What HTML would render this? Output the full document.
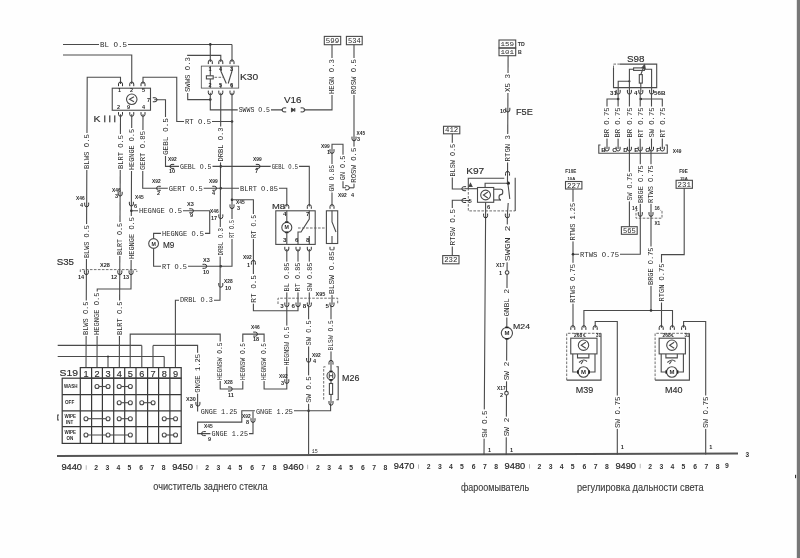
<!DOCTYPE html>
<html><head><meta charset="utf-8"><style>
html,body{margin:0;padding:0;background:#fff;}
body{width:800px;height:558px;overflow:hidden;position:relative;}
svg{position:absolute;left:0;top:0;will-change:transform;}
text{font-family:"Liberation Sans",sans-serif;fill:#2b2b2b;}
text.m{font-family:"Liberation Mono",monospace;fill:#2a2a2a;}
text.t{font-family:"Liberation Sans",sans-serif;font-weight:bold;fill:#2a2a2a;}
text.b{font-family:"Liberation Sans",sans-serif;font-weight:bold;fill:#333;}
text.L{font-family:"Liberation Sans",sans-serif;fill:#2e2e2e;stroke:#2e2e2e;stroke-width:0.15px;}
text.N{font-family:"Liberation Sans",sans-serif;fill:#262626;stroke:#262626;stroke-width:0.2px;}
text.s{fill:#3c3c3c;stroke:#3c3c3c;stroke-width:0.12px;}
</style></head><body>
<svg width="800" height="558" viewBox="0 0 800 558">
<rect x="0" y="0" width="800" height="558" fill="#fefefe"/>
<rect x="796.8" y="0" width="3.2" height="558" fill="#777"/>
<rect x="795" y="474.8" width="1.1" height="3.4" fill="#333"/>
<g stroke="#4a4a4a" stroke-width="1.1" fill="none">
<line x1="63" y1="44.5" x2="232" y2="44.5"/>
<polyline points="63,55 131.75,55 131.75,84"/>
<polyline points="86,368 87.2,77.25 120.5,77.25 120.5,84"/>
<polyline points="143,84 143,77.25 176.75,77.25 176.75,121.5 232,121.5"/>
<circle cx="232" cy="121.5" r="1.3" fill="#333" stroke="none"/>
<rect x="112.25" y="88.2" width="38.25" height="22.05" fill="none"/>
<circle cx="131.75" cy="99.3" r="5.25" fill="none"/>
<path d="M134,96.8 L129.5,99.3 L134,101.8" fill="none"/>
<polyline points="154.25,99.75 165.5,99.75 165.5,166.4 172,166.4"/>
<path d="M118.5,86.2 v-2.2 a2.0,2.0 0 0 1 4,0 v2.2" fill="none" stroke="#333" stroke-width="1"/>
<path d="M118.5,112.1 v2.2 a2.0,2.0 0 0 0 4,0 v-2.2" fill="none" stroke="#333" stroke-width="1"/>
<path d="M129.75,86.2 v-2.2 a2.0,2.0 0 0 1 4,0 v2.2" fill="none" stroke="#333" stroke-width="1"/>
<path d="M129.75,112.1 v2.2 a2.0,2.0 0 0 0 4,0 v-2.2" fill="none" stroke="#333" stroke-width="1"/>
<path d="M141,86.2 v-2.2 a2.0,2.0 0 0 1 4,0 v2.2" fill="none" stroke="#333" stroke-width="1"/>
<path d="M141,112.1 v2.2 a2.0,2.0 0 0 0 4,0 v-2.2" fill="none" stroke="#333" stroke-width="1"/>
<path d="M152.8,97.75 h2.2 a2.0,2.0 0 0 1 0,4 h-2.2" fill="none" stroke="#333" stroke-width="1"/>
<line x1="120.5" y1="114.3" x2="119.3" y2="368"/>
<path d="M118.16,191.8 v2.2 a2.0,2.0 0 0 0 4,0 v-2.2" fill="none" stroke="#333" stroke-width="1"/>
<path d="M117.82,270.4 v2.2 a2.0,2.0 0 0 0 4,0 v-2.2" fill="none" stroke="#333" stroke-width="1"/>
<polyline points="131.75,114.3 131,289 97.25,289 97,368"/>
<path d="M129.36,201.8 v2.2 a2.0,2.0 0 0 0 4,0 v-2.2" fill="none" stroke="#333" stroke-width="1"/>
<circle cx="131.34" cy="210.8" r="1.3" fill="#333" stroke="none"/>
<path d="M129.07,270.4 v2.2 a2.0,2.0 0 0 0 4,0 v-2.2" fill="none" stroke="#333" stroke-width="1"/>
<polyline points="143,114.3 142.7,188.3 158.6,188.3"/>
<path d="M84.65,202.6 v2.2 a2.0,2.0 0 0 0 4,0 v-2.2" fill="none" stroke="#333" stroke-width="1"/>
<path d="M84.36,270.4 v2.2 a2.0,2.0 0 0 0 4,0 v-2.2" fill="none" stroke="#333" stroke-width="1"/>
<polyline points="80.3,272 80.3,269.6 136.8,269.6 136.8,272" stroke-dasharray="2.6 1.4" stroke="#555" stroke-width="0.85"/>
<polyline points="220.8,61.9 220.8,55.4 187.7,55.4 187.7,99.6 210.3,99.6"/>
<circle cx="210.3" cy="99.6" r="1.3" fill="#333" stroke="none"/>
<line x1="210.3" y1="44.4" x2="210.3" y2="61.9"/>
<circle cx="210.3" cy="44.4" r="1.3" fill="#333" stroke="none"/>
<line x1="232" y1="44.4" x2="232" y2="61.9"/>
<rect x="201.3" y="66.1" width="37.4" height="22" fill="none" stroke-width="0.8"/>
<path d="M208.3,64.1 v-2.2 a2.0,2.0 0 0 1 4,0 v2.2" fill="none" stroke="#333" stroke-width="1"/>
<path d="M208.3,90.6 v2.2 a2.0,2.0 0 0 0 4,0 v-2.2" fill="none" stroke="#333" stroke-width="1"/>
<path d="M218.8,64.1 v-2.2 a2.0,2.0 0 0 1 4,0 v2.2" fill="none" stroke="#333" stroke-width="1"/>
<path d="M218.8,90.6 v2.2 a2.0,2.0 0 0 0 4,0 v-2.2" fill="none" stroke="#333" stroke-width="1"/>
<path d="M230,64.1 v-2.2 a2.0,2.0 0 0 1 4,0 v2.2" fill="none" stroke="#333" stroke-width="1"/>
<path d="M230,90.6 v2.2 a2.0,2.0 0 0 0 4,0 v-2.2" fill="none" stroke="#333" stroke-width="1"/>
<rect x="206.4" y="75.8" width="6.8" height="3.1" fill="none"/>
<line x1="210.3" y1="66.1" x2="210.3" y2="75.8"/>
<line x1="210.3" y1="78.9" x2="210.3" y2="88.1"/>
<line x1="220.8" y1="66.1" x2="220.8" y2="71"/>
<polyline points="220.8,71 226.3,83.5"/>
<line x1="220.8" y1="83.5" x2="220.8" y2="88.1"/>
<line x1="232" y1="66.1" x2="232" y2="71"/>
<polyline points="232,71 228.2,83.5"/>
<line x1="232" y1="83.5" x2="232" y2="88.1"/>
<polyline points="214.5,77.3 224,77.3" stroke-dasharray="2.6 1.4" stroke="#555" stroke-width="0.85"/>
<polyline points="210.3,92.8 210.3,109.9 283,109.9"/>
<path d="M286.2,107.9 h-2.2 a2.0,2.0 0 0 0 0,4 h2.2" fill="none" stroke="#333" stroke-width="1"/>
<path d="M300.6,107.9 h2.2 a2.0,2.0 0 0 1 0,4 h-2.2" fill="none" stroke="#333" stroke-width="1"/>
<path d="M291.5,108.3 L291.5,111.5 L294.5,109.9 Z" fill="#222"/>
<line x1="294.7" y1="108" x2="294.7" y2="111.8"/>
<polyline points="303.6,109.9 332,109.9 332,44.7"/>
<rect x="324.3" y="36.4" width="16.4" height="8.3" fill="none"/>
<rect x="346.4" y="36.4" width="15.8" height="8.3" fill="none"/>
<line x1="354" y1="44.7" x2="354" y2="187.8"/>
<line x1="354" y1="187.8" x2="349" y2="187.8"/>
<path d="M352,136.6 v2.2 a2.0,2.0 0 0 0 4,0 v-2.2" fill="none" stroke="#333" stroke-width="1"/>
<polyline points="220.8,92.8 220,300.2 175.4,300.2 175.4,368"/>
<circle cx="220.8" cy="166.4" r="1.3" fill="#333" stroke="none"/>
<circle cx="220.8" cy="188.3" r="1.3" fill="#333" stroke="none"/>
<path d="M218.8,214.4 v2.2 a2.0,2.0 0 0 0 4,0 v-2.2" fill="none" stroke="#333" stroke-width="1"/>
<circle cx="220.8" cy="266.3" r="1.3" fill="#333" stroke="none"/>
<path d="M218.8,283 v2.2 a2.0,2.0 0 0 0 4,0 v-2.2" fill="none" stroke="#333" stroke-width="1"/>
<polyline points="232,92.8 232,266.3 153.6,266.3 153.6,248.5"/>
<circle cx="232" cy="199.8" r="1.3" fill="#333" stroke="none"/>
<path d="M230,204.4 v2.2 a2.0,2.0 0 0 0 4,0 v-2.2" fill="none" stroke="#333" stroke-width="1"/>
<path d="M202.5,264.3 h2.2 a2.0,2.0 0 0 1 0,4 h-2.2" fill="none" stroke="#333" stroke-width="1"/>
<polyline points="232,199.8 253.4,199.8 253.4,310.8 298,310.8 298,304.7"/>
<path d="M251.4,264.6 v-2.2 a2.0,2.0 0 0 1 4,0 v2.2" fill="none" stroke="#333" stroke-width="1"/>
<polyline points="172,166.4 309.3,166.4 309.3,206.6"/>
<path d="M174.2,164.4 h-2.2 a2.0,2.0 0 0 0 0,4 h2.2" fill="none" stroke="#333" stroke-width="1"/>
<path d="M255.8,164.4 h2.2 a2.0,2.0 0 0 1 0,4 h-2.2" fill="none" stroke="#333" stroke-width="1"/>
<polyline points="158.6,188.3 286.8,188.3 286.8,206.6"/>
<path d="M160.8,186.3 h-2.2 a2.0,2.0 0 0 0 0,4 h2.2" fill="none" stroke="#333" stroke-width="1"/>
<path d="M212.3,186.3 h2.2 a2.0,2.0 0 0 1 0,4 h-2.2" fill="none" stroke="#333" stroke-width="1"/>
<polyline points="131.75,210.8 209.7,210.8 209.7,233.4 153.6,233.4 153.6,238.5"/>
<path d="M189.2,208.8 h2.2 a2.0,2.0 0 0 1 0,4 h-2.2" fill="none" stroke="#333" stroke-width="1"/>
<circle cx="153.6" cy="243.5" r="4.9" fill="#fff"/>
<path d="M284.8,208.8 v-2.2 a2.0,2.0 0 0 1 4,0 v2.2" fill="none" stroke="#333" stroke-width="1"/>
<path d="M307.3,208.8 v-2.2 a2.0,2.0 0 0 1 4,0 v2.2" fill="none" stroke="#333" stroke-width="1"/>
<rect x="275.8" y="210.8" width="39.4" height="33.6" fill="none"/>
<circle cx="286.8" cy="227.4" r="5" fill="#fff"/>
<rect x="285.2" y="221.2" width="3.2" height="1.6" fill="#222" stroke="none"/><rect x="285.2" y="231.6" width="3.2" height="1.6" fill="#222" stroke="none"/>
<line x1="286.8" y1="210.8" x2="286.8" y2="222.4"/>
<line x1="286.8" y1="232.4" x2="286.8" y2="244.2"/>
<polyline points="309.3,210.8 309.3,219 301,232 298,232 298,244.2"/>
<line x1="309.3" y1="236" x2="309.3" y2="244.2"/>
<polyline points="298,228 326,228" stroke-dasharray="2.6 1.4" stroke="#555" stroke-width="0.85"/>
<path d="M284.8,246.8 v2.2 a2.0,2.0 0 0 0 4,0 v-2.2" fill="none" stroke="#333" stroke-width="1"/>
<path d="M296,246.8 v2.2 a2.0,2.0 0 0 0 4,0 v-2.2" fill="none" stroke="#333" stroke-width="1"/>
<path d="M307.3,246.8 v2.2 a2.0,2.0 0 0 0 4,0 v-2.2" fill="none" stroke="#333" stroke-width="1"/>
<rect x="326.4" y="210.8" width="11.3" height="32.7" fill="none"/>
<path d="M330,208.8 v-2.2 a2.0,2.0 0 0 1 4,0 v2.2" fill="none" stroke="#333" stroke-width="1"/>
<path d="M330,246.8 v2.2 a2.0,2.0 0 0 0 4,0 v-2.2" fill="none" stroke="#333" stroke-width="1"/>
<polyline points="332,210.8 332,222 336,232"/>
<line x1="332" y1="236" x2="332" y2="243.5"/>
<polyline points="332,151.4 332,144.3 343,144.3 343,187.8 346,187.8"/>
<line x1="332" y1="151.4" x2="332" y2="206.6"/>
<path d="M330,149.2 v2.2 a2.0,2.0 0 0 0 4,0 v-2.2" fill="none" stroke="#333" stroke-width="1"/>
<path d="M345.1,185.8 h2.2 a2.0,2.0 0 0 1 0,4 h-2.2" fill="none" stroke="#333" stroke-width="1"/>
<line x1="286.8" y1="249" x2="286.8" y2="304.7"/>
<line x1="309.3" y1="249" x2="309.3" y2="304.7"/>
<line x1="332" y1="249" x2="332" y2="304.7"/>
<line x1="298" y1="249" x2="298" y2="304.7"/>
<polyline points="278,304 278,298.2 337.7,298.2 337.7,304" stroke-dasharray="2.6 1.4" stroke="#555" stroke-width="0.85"/>
<path d="M284.8,302.5 v2.2 a2.0,2.0 0 0 0 4,0 v-2.2" fill="none" stroke="#333" stroke-width="1"/>
<path d="M296,302.5 v2.2 a2.0,2.0 0 0 0 4,0 v-2.2" fill="none" stroke="#333" stroke-width="1"/>
<path d="M307.3,302.5 v2.2 a2.0,2.0 0 0 0 4,0 v-2.2" fill="none" stroke="#333" stroke-width="1"/>
<path d="M330,302.5 v2.2 a2.0,2.0 0 0 0 4,0 v-2.2" fill="none" stroke="#333" stroke-width="1"/>
<polyline points="286.8,304.7 286.8,389 264.1,389 264.1,334.1 242.8,334.1 242.8,389 220.2,389 220.2,334.1 130.2,334.1 130.2,368"/>
<path d="M284.8,379.2 v2.2 a2.0,2.0 0 0 0 4,0 v-2.2" fill="none" stroke="#333" stroke-width="1"/>
<path d="M253.2,332.1 h2.2 a2.0,2.0 0 0 1 0,4 h-2.2" fill="none" stroke="#333" stroke-width="1"/>
<path d="M228,387 h2.2 a2.0,2.0 0 0 1 0,4 h-2.2" fill="none" stroke="#333" stroke-width="1"/>
<line x1="308.6" y1="304.7" x2="308.6" y2="455"/>
<path d="M306.6,358 v2.2 a2.0,2.0 0 0 0 4,0 v-2.2" fill="none" stroke="#333" stroke-width="1"/>
<circle cx="308.6" cy="410.8" r="1.3" fill="#333" stroke="none"/>
<polyline points="331,304.7 331,403.2"/>
<polyline points="330.6,403.2 330.6,410.8 241.8,410.8 241.8,422.1 197.6,422.1 197.6,433.6 253,433.6 253,411.4"/>
<path d="M329,364.6 v-2.2 a2.0,2.0 0 0 1 4,0 v2.2" fill="none" stroke="#333" stroke-width="1"/>
<polyline points="325.5,366.8 323.7,366.8 323.7,399.8" stroke-dasharray="2.6 1.4" stroke="#555" stroke-width="0.85"/>
<polyline points="336.4,366.8 338.2,366.8 338.2,399.8 336.4,399.8"/>
<circle cx="331" cy="375.7" r="4" fill="#fff"/>
<polyline points="329.3,373.2 329.3,378.2"/>
<polyline points="332.7,373.2 332.7,378.2"/>
<polyline points="329.3,375.7 332.7,375.7"/>
<rect x="329.4" y="370.6" width="3.2" height="1.6" fill="#222" stroke="none"/>
<rect x="329.4" y="379.2" width="3.2" height="1.6" fill="#222" stroke="none"/>
<rect x="329.4" y="383.5" width="3.2" height="10.9" fill="#fff"/>
<path d="M329,401 v2.2 a2.0,2.0 0 0 0 4,0 v-2.2" fill="none" stroke="#333" stroke-width="1"/>
<polyline points="175,345.4 197.6,345.4 197.6,411.4"/>
<path d="M195.9,401.9 v2.2 a2.0,2.0 0 0 0 4,0 v-2.2" fill="none" stroke="#333" stroke-width="1"/>
<path d="M205.8,431.6 h-2.2 a2.0,2.0 0 0 0 0,4 h2.2" fill="none" stroke="#333" stroke-width="1"/>
<path d="M251,418.2 v2.2 a2.0,2.0 0 0 0 4,0 v-2.2" fill="none" stroke="#333" stroke-width="1"/>
<line x1="57.7" y1="345.4" x2="141.8" y2="345.4"/>
<line x1="141.8" y1="345.4" x2="141.8" y2="368"/>
<line x1="153" y1="345.4" x2="153" y2="368"/>
<line x1="153" y1="345.4" x2="175" y2="345.4"/>
<line x1="57.7" y1="356.5" x2="164.2" y2="356.5"/>
<line x1="164.2" y1="356.5" x2="164.2" y2="368"/>
<line x1="108" y1="356.5" x2="108" y2="368"/>
<circle cx="108" cy="356.5" r="1" fill="#333" stroke="none"/>
<g stroke="#383838" stroke-width="1.2">
<rect x="80.3" y="367.6" width="100.9" height="10.6" fill="none"/>
<line x1="91.6" y1="367.6" x2="91.6" y2="443.4"/>
<line x1="102.4" y1="367.6" x2="102.4" y2="443.4"/>
<line x1="113.7" y1="367.6" x2="113.7" y2="443.4"/>
<line x1="124.7" y1="367.6" x2="124.7" y2="443.4"/>
<line x1="136" y1="367.6" x2="136" y2="443.4"/>
<line x1="147.6" y1="367.6" x2="147.6" y2="443.4"/>
<line x1="158.6" y1="367.6" x2="158.6" y2="443.4"/>
<line x1="169.9" y1="367.6" x2="169.9" y2="443.4"/>
<rect x="62.2" y="378.2" width="119" height="65.2" fill="none"/>
<line x1="62.2" y1="394.7" x2="181.2" y2="394.7"/>
<line x1="62.2" y1="410.8" x2="181.2" y2="410.8"/>
<line x1="62.2" y1="426.6" x2="181.2" y2="426.6"/>
<line x1="80.3" y1="378.2" x2="80.3" y2="443.4"/>
</g>
<line x1="97" y1="386.5" x2="108.05" y2="386.5"/>
<circle cx="97" cy="386.5" r="2" fill="#fff"/>
<circle cx="108.05" cy="386.5" r="2" fill="#fff"/>
<line x1="119.2" y1="386.5" x2="130.35" y2="386.5"/>
<circle cx="119.2" cy="386.5" r="2" fill="#fff"/>
<circle cx="130.35" cy="386.5" r="2" fill="#fff"/>
<line x1="119.2" y1="402.7" x2="130.35" y2="402.7"/>
<circle cx="119.2" cy="402.7" r="2" fill="#fff"/>
<circle cx="130.35" cy="402.7" r="2" fill="#fff"/>
<line x1="141.8" y1="402.7" x2="153.1" y2="402.7"/>
<circle cx="141.8" cy="402.7" r="2" fill="#fff"/>
<circle cx="153.1" cy="402.7" r="2" fill="#fff"/>
<line x1="85.95" y1="418.7" x2="108.05" y2="418.7"/>
<circle cx="85.95" cy="418.7" r="2" fill="#fff"/>
<circle cx="108.05" cy="418.7" r="2" fill="#fff"/>
<line x1="119.2" y1="418.7" x2="130.35" y2="418.7"/>
<circle cx="119.2" cy="418.7" r="2" fill="#fff"/>
<circle cx="130.35" cy="418.7" r="2" fill="#fff"/>
<line x1="164.25" y1="418.7" x2="175.55" y2="418.7"/>
<circle cx="164.25" cy="418.7" r="2" fill="#fff"/>
<circle cx="175.55" cy="418.7" r="2" fill="#fff"/>
<line x1="85.95" y1="435" x2="130.35" y2="435"/>
<circle cx="85.95" cy="435" r="2" fill="#fff"/>
<circle cx="130.35" cy="435" r="2" fill="#fff"/>
<circle cx="108.05" cy="435" r="2" fill="#fff"/>
<line x1="164.25" y1="435" x2="175.55" y2="435"/>
<circle cx="164.25" cy="435" r="2" fill="#fff"/>
<circle cx="175.55" cy="435" r="2" fill="#fff"/>
<polyline points="59,415 57.7,415 57.7,420 59,420"/>
<line x1="57" y1="456" x2="738" y2="453.5" stroke="#555" stroke-width="2"/>
<rect x="443.5" y="126.3" width="16.3" height="7.5" fill="none"/>
<polyline points="452.3,133.8 452.3,189 464.4,189"/>
<polyline points="464.4,200.3 452.3,200.3 452.3,255.6"/>
<rect x="442.7" y="255.6" width="16.3" height="8.2" fill="none"/>
<polyline points="504.3,178.3 468.3,178.3 468.3,188"/>
<polyline points="468.3,188 468.3,210.9 515.2,210.9" stroke-dasharray="2.6 1.4" stroke="#555" stroke-width="0.85"/>
<polyline points="515.2,210.9 515.2,177.8"/>
<rect x="477.5" y="187.5" width="16.2" height="14.8" fill="#fff"/>
<circle cx="485.6" cy="195" r="4.9" fill="none"/>
<path d="M487.8,192 L483.4,195 L487.8,198" fill="none"/>
<polyline points="493.7,189.2 500.9,189.2"/>
<polyline points="493.7,200 500.9,200"/>
<path d="M500.9,189.2 c2.5,0 2.5,5.4 0,5.4 c-2.5,0 -2.5,5.4 0,5.4" fill="none"/>
<polyline points="464.4,188.7 477.5,188.7"/>
<polyline points="464.4,200.5 470,200.5"/>
<path d="M466.1,186.7 h-2.2 a2.0,2.0 0 0 0 0,4 h2.2" fill="none" stroke="#333" stroke-width="1"/>
<path d="M466.1,198.5 h-2.2 a2.0,2.0 0 0 0 0,4 h2.2" fill="none" stroke="#333" stroke-width="1"/>
<path d="M469,186.5 L470.5,183.5 L472,186.5 Z" fill="#333"/>
<polyline points="485.1,187.5 485.1,183.2 507.49,183.2"/>
<circle cx="508.29" cy="183.2" r="1.6" fill="#222" stroke="none"/>
<polyline points="508.1,55.7 507.49,183.2"/>
<polyline points="507.99,184 509.8,199"/>
<polyline points="508.2,203 507.33,215.8 506.18,455"/>
<polyline points="485.6,202.3 485.6,215.8 484,455"/>
<path d="M483.6,213.6 v2.2 a2.0,2.0 0 0 0 4,0 v-2.2" fill="none" stroke="#333" stroke-width="1"/>
<path d="M505.33,213.6 v2.2 a2.0,2.0 0 0 0 4,0 v-2.2" fill="none" stroke="#333" stroke-width="1"/>
<rect x="499" y="40" width="16.7" height="8" fill="none"/>
<rect x="499" y="48" width="16.7" height="7.7" fill="none"/>
<path d="M505.84,107.8 v2.2 a2.0,2.0 0 0 0 4,0 v-2.2" fill="none" stroke="#333" stroke-width="1"/>
<path d="M505.54,175.6 v-2.2 a2.0,2.0 0 0 1 4,0 v2.2" fill="none" stroke="#333" stroke-width="1"/>
<circle cx="507.06" cy="272.6" r="1.8" fill="#fff"/>
<circle cx="506.9" cy="333.1" r="5.6" fill="#fff"/>
<rect x="505.2" y="326.6" width="3.4" height="1.6" fill="#222" stroke="none"/>
<rect x="505.2" y="338" width="3.4" height="1.6" fill="#222" stroke="none"/>
<circle cx="506.48" cy="393.2" r="1.8" fill="#fff"/>
<polyline points="613.5,68 613.5,87.6 656.7,87.6 656.7,64.1 620,64.1"/>
<polyline points="620,64.1 613.5,64.1 613.5,68" stroke-dasharray="2.6 1.4" stroke="#555" stroke-width="0.85"/>
<polyline points="618.2,92.1 618.2,81.3 629.4,81.3"/>
<circle cx="629.4" cy="81.3" r="1.1" fill="#333" stroke="none"/>
<polyline points="629.4,92.1 629.4,69.2 633.6,69.2"/>
<rect x="633.6" y="67.9" width="10.8" height="2.5" fill="#fff"/>
<polyline points="644.4,69.2 651.6,69.2 651.6,92.1"/>
<rect x="639.3" y="74.6" width="3" height="8.5" fill="#fff"/>
<line x1="640.8" y1="83.1" x2="640.8" y2="92.1"/>
<polyline points="640.8,74.6 643.5,67.5"/>
<path d="M642,67.8 L644.6,64.8 L645.2,68.6 Z" fill="#333"/>
<path d="M616.2,89.9 v2.2 a2.0,2.0 0 0 0 4,0 v-2.2" fill="none" stroke="#333" stroke-width="1"/>
<path d="M627.4,89.9 v2.2 a2.0,2.0 0 0 0 4,0 v-2.2" fill="none" stroke="#333" stroke-width="1"/>
<path d="M638.8,89.9 v2.2 a2.0,2.0 0 0 0 4,0 v-2.2" fill="none" stroke="#333" stroke-width="1"/>
<path d="M649.6,89.9 v2.2 a2.0,2.0 0 0 0 4,0 v-2.2" fill="none" stroke="#333" stroke-width="1"/>
<polyline points="607,149 607,99 618.2,99"/>
<circle cx="618.2" cy="99" r="1.3" fill="#333" stroke="none"/>
<polyline points="662.3,149 662.3,99 640.8,99"/>
<circle cx="640.8" cy="99" r="1.3" fill="#333" stroke="none"/>
<path d="M605,146.8 v2.2 a2.0,2.0 0 0 0 4,0 v-2.2" fill="none" stroke="#333" stroke-width="1"/>
<line x1="618.1" y1="92.1" x2="618.1" y2="149"/>
<path d="M616.1,146.8 v2.2 a2.0,2.0 0 0 0 4,0 v-2.2" fill="none" stroke="#333" stroke-width="1"/>
<line x1="629.4" y1="92.1" x2="629.4" y2="149"/>
<path d="M627.4,146.8 v2.2 a2.0,2.0 0 0 0 4,0 v-2.2" fill="none" stroke="#333" stroke-width="1"/>
<line x1="640.2" y1="92.1" x2="640.2" y2="149"/>
<path d="M638.2,146.8 v2.2 a2.0,2.0 0 0 0 4,0 v-2.2" fill="none" stroke="#333" stroke-width="1"/>
<line x1="651.5" y1="92.1" x2="651.5" y2="149"/>
<path d="M649.5,146.8 v2.2 a2.0,2.0 0 0 0 4,0 v-2.2" fill="none" stroke="#333" stroke-width="1"/>
<path d="M660.3,146.8 v2.2 a2.0,2.0 0 0 0 4,0 v-2.2" fill="none" stroke="#333" stroke-width="1"/>
<polyline points="600.5,145 598.8,145 598.8,153.2 667.3,153.2 667.3,145 665.5,145"/>
<polyline points="629.4,149 629.4,226.7"/>
<rect x="621.4" y="226.7" width="15.8" height="7.6" fill="none"/>
<polyline points="640.3,149 640.3,254.3 573,254.3"/>
<polyline points="651,149 651,310.5"/>
<path d="M638.3,212.1 v2.2 a2.0,2.0 0 0 0 4,0 v-2.2" fill="none" stroke="#333" stroke-width="1"/>
<path d="M649,212.1 v2.2 a2.0,2.0 0 0 0 4,0 v-2.2" fill="none" stroke="#333" stroke-width="1"/>
<polyline points="637.5,210.4 636,210.4 636,218.2 662,218.2 662,210.4 660.5,210.4" stroke-dasharray="2.6 1.4" stroke="#555" stroke-width="0.85"/>
<rect x="676.1" y="180.3" width="16.3" height="8" fill="none"/>
<polyline points="684.2,188.3 684.2,254.6 661.5,254.6 661.5,327.7"/>
<rect x="565.5" y="181.5" width="16.4" height="7.5" fill="none"/>
<polyline points="573,189 573,327.7"/>
<circle cx="573" cy="254.3" r="1.3" fill="#333" stroke="none"/>
<polyline points="583.9,327.7 583.9,310.5 672.5,310.5 672.5,327.7"/>
<circle cx="651" cy="310.5" r="1.3" fill="#333" stroke="none"/>
<polyline points="595.2,327.7 595.2,321.5 617.3,321.5 617.3,454.5"/>
<path d="M570.8,329.9 v-2.2 a2.0,2.0 0 0 1 4,0 v2.2" fill="none" stroke="#333" stroke-width="1"/>
<path d="M581.9,329.9 v-2.2 a2.0,2.0 0 0 1 4,0 v2.2" fill="none" stroke="#333" stroke-width="1"/>
<path d="M593.2,329.9 v-2.2 a2.0,2.0 0 0 1 4,0 v2.2" fill="none" stroke="#333" stroke-width="1"/>
<polyline points="566.7,380.1 566.7,333.3 601,333.3" stroke-dasharray="2.6 1.4" stroke="#555" stroke-width="0.85"/>
<polyline points="601,333.3 601,380.1 566.7,380.1"/>
<rect x="570.75" y="338.2" width="26.25" height="15.7" fill="#fff"/>
<circle cx="583.5" cy="345.2" r="5.2" fill="none"/>
<path d="M585.8,342.2 L581.2,345.2 L585.8,348.2" fill="none"/>
<polyline points="577.5,353.9 577.5,357.9 588.9,357.9 588.9,353.9"/>
<path d="M579,362.5 q4.5,-4.5 8,-1 M581,364 l2,-3" fill="none"/>
<polyline points="572.8,353.9 572.8,372 577.5,372"/>
<polyline points="595,353.9 595,372 589.5,372"/>
<circle cx="583.5" cy="372" r="5.3" fill="#fff"/>
<rect x="577" y="370.3" width="1.6" height="3.4" fill="#222" stroke="none"/>
<rect x="588.4" y="370.3" width="1.6" height="3.4" fill="#222" stroke="none"/>
<polyline points="683.6,327.7 683.6,321.5 705.7,321.5 705.7,454.5"/>
<path d="M659.2,329.9 v-2.2 a2.0,2.0 0 0 1 4,0 v2.2" fill="none" stroke="#333" stroke-width="1"/>
<path d="M670.3,329.9 v-2.2 a2.0,2.0 0 0 1 4,0 v2.2" fill="none" stroke="#333" stroke-width="1"/>
<path d="M681.6,329.9 v-2.2 a2.0,2.0 0 0 1 4,0 v2.2" fill="none" stroke="#333" stroke-width="1"/>
<polyline points="655.1,380.1 655.1,333.3 689.4,333.3" stroke-dasharray="2.6 1.4" stroke="#555" stroke-width="0.85"/>
<polyline points="689.4,333.3 689.4,380.1 655.1,380.1"/>
<rect x="659.15" y="338.2" width="26.25" height="15.7" fill="#fff"/>
<circle cx="671.9" cy="345.2" r="5.2" fill="none"/>
<path d="M674.2,342.2 L669.6,345.2 L674.2,348.2" fill="none"/>
<polyline points="665.9,353.9 665.9,357.9 677.3,357.9 677.3,353.9"/>
<path d="M667.4,362.5 q4.5,-4.5 8,-1 M669.4,364 l2,-3" fill="none"/>
<polyline points="661.2,353.9 661.2,372 665.9,372"/>
<polyline points="683.4,353.9 683.4,372 677.9,372"/>
<circle cx="671.9" cy="372" r="5.3" fill="#fff"/>
<rect x="665.4" y="370.3" width="1.6" height="3.4" fill="#222" stroke="none"/>
<rect x="676.8" y="370.3" width="1.6" height="3.4" fill="#222" stroke="none"/>
</g>
<g stroke="none">
<rect x="99" y="41.26" width="29" height="6.48" fill="#fff"/>
<text class="m" x="100" y="46.94" font-size="7.4" textLength="27" lengthAdjust="spacingAndGlyphs">BL O.5</text>
<rect x="184" y="118.32" width="28" height="6.37" fill="#fff"/>
<text class="m" x="185" y="123.88" font-size="7.22" textLength="26" lengthAdjust="spacingAndGlyphs">RT O.5</text>
<rect x="162.26" y="117" width="6.48" height="39" fill="#fff"/>
<text class="m" transform="translate(167.94,155) rotate(-90)" font-size="7.4" textLength="37" lengthAdjust="spacingAndGlyphs">GEBL O.5</text>
<text class="t" x="118" y="92" font-size="5.52">1</text>
<text class="t" x="130" y="92" font-size="5.52">2</text>
<text class="t" x="142" y="92" font-size="5.52">5</text>
<text class="t" x="147" y="102" font-size="5.52">7</text>
<text class="t" x="117" y="109" font-size="5.52">2</text>
<text class="t" x="127" y="109" font-size="5.52">9</text>
<text class="t" x="142" y="109" font-size="5.52">4</text>
<text class="L" x="93.5" y="122.3" font-size="9.3" textLength="7" lengthAdjust="spacingAndGlyphs">K</text>
<rect x="104.2" y="115.4" width="1.15" height="6.9" fill="#333"/>
<rect x="109.2" y="115.4" width="1.15" height="6.9" fill="#333"/>
<rect x="114.2" y="115.4" width="1.15" height="6.9" fill="#333"/>
<rect x="117.2" y="134" width="6.28" height="36" fill="#fff"/>
<text class="m" transform="translate(122.68,169) rotate(-90)" font-size="7.08" textLength="34" lengthAdjust="spacingAndGlyphs">BLRT O.5</text>
<text class="t" x="112" y="192" font-size="4.83">X46</text>
<text class="t" x="115" y="198" font-size="5.52">3</text>
<rect x="116.96" y="222" width="6" height="34" fill="#fff"/>
<text class="m" transform="translate(122.16,255) rotate(-90)" font-size="6.67" textLength="32" lengthAdjust="spacingAndGlyphs">BLRT O.5</text>
<text class="t" x="111" y="279" font-size="5.52">12</text>
<rect x="116.52" y="300.5" width="6.21" height="35.5" fill="#fff"/>
<text class="m" transform="translate(121.93,335) rotate(-90)" font-size="6.98" textLength="33.5" lengthAdjust="spacingAndGlyphs">BLRT O.5</text>
<rect x="128.54" y="128" width="6.11" height="43" fill="#fff"/>
<text class="m" transform="translate(133.85,170) rotate(-90)" font-size="6.83" textLength="41" lengthAdjust="spacingAndGlyphs">HEGNGE O.5</text>
<text class="t" x="135" y="199" font-size="4.83">X45</text>
<text class="t" x="134" y="208" font-size="5.52">6</text>
<rect x="128.11" y="216" width="6.22" height="44" fill="#fff"/>
<text class="m" transform="translate(133.53,259) rotate(-90)" font-size="7" textLength="42" lengthAdjust="spacingAndGlyphs">HEGNGE O.5</text>
<text class="t" x="123" y="279" font-size="5.52">13</text>
<rect x="94.01" y="291.5" width="6.28" height="44.5" fill="#fff"/>
<text class="m" transform="translate(99.49,335) rotate(-90)" font-size="7.08" textLength="42.5" lengthAdjust="spacingAndGlyphs">HEGNGE O.5</text>
<rect x="139.67" y="130" width="6.37" height="41" fill="#fff"/>
<text class="m" transform="translate(145.23,170) rotate(-90)" font-size="7.22" textLength="39" lengthAdjust="spacingAndGlyphs">GERT O.85</text>
<rect x="83.68" y="133" width="6.41" height="37" fill="#fff"/>
<text class="m" transform="translate(89.29,169) rotate(-90)" font-size="7.29" textLength="35" lengthAdjust="spacingAndGlyphs">BLWS O.5</text>
<text class="t" x="76" y="200" font-size="4.83">X46</text>
<text class="t" x="80" y="207" font-size="5.52">4</text>
<rect x="83.43" y="224" width="6.14" height="35" fill="#fff"/>
<text class="m" transform="translate(88.76,258) rotate(-90)" font-size="6.88" textLength="33" lengthAdjust="spacingAndGlyphs">BLWS O.5</text>
<text class="t" x="78" y="279" font-size="5.52">14</text>
<rect x="83.06" y="300.5" width="6.21" height="35.5" fill="#fff"/>
<text class="m" transform="translate(88.47,335) rotate(-90)" font-size="6.98" textLength="33.5" lengthAdjust="spacingAndGlyphs">BLWS O.5</text>
<text class="L" x="56.7" y="265" font-size="9.3" textLength="17.3" lengthAdjust="spacingAndGlyphs">S35</text>
<text class="t" x="100" y="266.5" font-size="5.52">X28</text>
<rect x="184.49" y="56" width="6.41" height="37" fill="#fff"/>
<text class="m" transform="translate(190.11,92) rotate(-90)" font-size="7.29" textLength="35" lengthAdjust="spacingAndGlyphs">SWWS O.3</text>
<text class="t" x="208.5" y="71" font-size="5.52">1</text>
<text class="t" x="219" y="71" font-size="5.52">4</text>
<text class="t" x="230" y="71" font-size="5.52">3</text>
<text class="t" x="208.5" y="87" font-size="5.52">2</text>
<text class="t" x="219" y="87" font-size="5.52">5</text>
<text class="t" x="230" y="87" font-size="5.52">6</text>
<text class="L" x="240" y="79.8" font-size="9.4" textLength="18.3" lengthAdjust="spacingAndGlyphs">K30</text>
<rect x="237.7" y="106.92" width="33.3" height="5.96" fill="#fff"/>
<text class="m" x="238.7" y="112.08" font-size="6.6" textLength="31.3" lengthAdjust="spacingAndGlyphs">SWWS O.5</text>
<text class="L" x="284" y="103" font-size="9" textLength="17.5" lengthAdjust="spacingAndGlyphs">V16</text>
<text class="m" x="325.8" y="42.89" font-size="6.5" textLength="13.4" lengthAdjust="spacingAndGlyphs">599</text>
<text class="m" x="347.9" y="42.89" font-size="6.5" textLength="12.8" lengthAdjust="spacingAndGlyphs">534</text>
<rect x="328.79" y="58" width="6.41" height="37" fill="#fff"/>
<text class="m" transform="translate(334.41,94) rotate(-90)" font-size="7.29" textLength="35" lengthAdjust="spacingAndGlyphs">HEGN O.3</text>
<rect x="350.79" y="58" width="6.41" height="37" fill="#fff"/>
<text class="m" transform="translate(356.41,94) rotate(-90)" font-size="7.29" textLength="35" lengthAdjust="spacingAndGlyphs">ROSW O.5</text>
<text class="t" x="356.5" y="135" font-size="4.83">X45</text>
<text class="t" x="357" y="141" font-size="5.52">3</text>
<rect x="350.79" y="146.6" width="6.43" height="37.1" fill="#fff"/>
<text class="m" transform="translate(356.41,182.7) rotate(-90)" font-size="7.31" textLength="35.1" lengthAdjust="spacingAndGlyphs">ROSW O.5</text>
<rect x="217.67" y="126.5" width="6.26" height="35.9" fill="#fff"/>
<text class="m" transform="translate(223.13,161.4) rotate(-90)" font-size="7.06" textLength="33.9" lengthAdjust="spacingAndGlyphs">DRBL O.3</text>
<text class="t" x="210" y="213" font-size="4.83">X46</text>
<text class="t" x="211" y="220" font-size="5.52">17</text>
<rect x="217.82" y="227" width="5.96" height="29.5" fill="#fff"/>
<text class="m" transform="translate(222.98,255.5) rotate(-90)" font-size="6.6" textLength="27.5" lengthAdjust="spacingAndGlyphs">DRBL O.3</text>
<text class="t" x="224" y="283" font-size="4.83">X28</text>
<text class="t" x="225" y="290" font-size="5.52">10</text>
<rect x="179" y="297.13" width="35" height="6.14" fill="#fff"/>
<text class="m" x="180" y="302.47" font-size="6.88" textLength="33" lengthAdjust="spacingAndGlyphs">DRBL O.3</text>
<text class="t" x="236" y="204" font-size="4.83">X45</text>
<text class="t" x="237" y="210" font-size="5.52">3</text>
<rect x="229.02" y="219" width="5.96" height="20" fill="#fff"/>
<text class="m" transform="translate(234.18,238) rotate(-90)" font-size="6.6" textLength="18" lengthAdjust="spacingAndGlyphs">RT O.5</text>
<text class="t" x="203" y="262" font-size="5.52">X3</text>
<text class="t" x="203" y="274" font-size="5.52">10</text>
<rect x="161" y="263.21" width="27" height="6.18" fill="#fff"/>
<text class="m" x="162" y="268.59" font-size="6.94" textLength="25" lengthAdjust="spacingAndGlyphs">RT O.5</text>
<rect x="250.42" y="214" width="5.96" height="25" fill="#fff"/>
<text class="m" transform="translate(255.58,238) rotate(-90)" font-size="6.6" textLength="23" lengthAdjust="spacingAndGlyphs">RT O.5</text>
<text class="t" x="243" y="259" font-size="4.83">X92</text>
<text class="t" x="247" y="267" font-size="5.52">1</text>
<rect x="250.16" y="274" width="6.48" height="29.7" fill="#fff"/>
<text class="m" transform="translate(255.84,302.7) rotate(-90)" font-size="7.4" textLength="27.7" lengthAdjust="spacingAndGlyphs">RT O.5</text>
<text class="t" x="168" y="161" font-size="4.83">X92</text>
<text class="t" x="169" y="173" font-size="5.52">10</text>
<rect x="179" y="163.42" width="33.5" height="5.96" fill="#fff"/>
<text class="m" x="180" y="168.58" font-size="6.6" textLength="31.5" lengthAdjust="spacingAndGlyphs">GEBL O.5</text>
<text class="t" x="253" y="161" font-size="4.83">X99</text>
<text class="t" x="255" y="173" font-size="5.52">7</text>
<rect x="270.7" y="163.42" width="28.3" height="5.96" fill="#fff"/>
<text class="m" x="271.7" y="168.58" font-size="6.6" textLength="26.3" lengthAdjust="spacingAndGlyphs">GEBL O.5</text>
<text class="t" x="152" y="183" font-size="4.83">X92</text>
<text class="t" x="157" y="195" font-size="5.52">2</text>
<rect x="167.8" y="185.17" width="35.9" height="6.26" fill="#fff"/>
<text class="m" x="168.8" y="190.63" font-size="7.06" textLength="33.9" lengthAdjust="spacingAndGlyphs">GERT O.5</text>
<text class="t" x="209" y="183" font-size="4.83">X99</text>
<text class="t" x="212" y="195" font-size="5.52">4</text>
<rect x="239" y="185.18" width="40" height="6.24" fill="#fff"/>
<text class="m" x="240" y="190.62" font-size="7.04" textLength="38" lengthAdjust="spacingAndGlyphs">BLRT O.85</text>
<rect x="138" y="207.63" width="45" height="6.33" fill="#fff"/>
<text class="m" x="139" y="213.17" font-size="7.17" textLength="43" lengthAdjust="spacingAndGlyphs">HEGNGE O.5</text>
<text class="t" x="187" y="206" font-size="5.52">X3</text>
<text class="t" x="190" y="217" font-size="5.52">9</text>
<rect x="161" y="230.29" width="44" height="6.22" fill="#fff"/>
<text class="m" x="162" y="235.71" font-size="7" textLength="42" lengthAdjust="spacingAndGlyphs">HEGNGE O.5</text>
<text class="t" x="151.4" y="245.5" font-size="5" textLength="4.4" lengthAdjust="spacingAndGlyphs">M</text>
<text class="L" x="163" y="247.5" font-size="9.5" textLength="11.4" lengthAdjust="spacingAndGlyphs">M9</text>
<text class="L" x="272" y="208.8" font-size="8" textLength="13" lengthAdjust="spacingAndGlyphs">M8</text>
<text class="t" x="284.6" y="229.4" font-size="5" textLength="4.4" lengthAdjust="spacingAndGlyphs">M</text>
<text class="t" x="283" y="216" font-size="6.21">4</text>
<text class="t" x="306" y="216" font-size="6.21">7</text>
<text class="t" x="283" y="242" font-size="6.21">3</text>
<text class="t" x="295" y="242" font-size="6.21">6</text>
<text class="t" x="306" y="242" font-size="6.21">8</text>
<text class="t" x="321" y="148" font-size="4.83">X99</text>
<text class="t" x="327" y="154" font-size="5.52">1</text>
<rect x="329.02" y="164" width="5.96" height="28.5" fill="#fff"/>
<text class="m" transform="translate(334.18,191.5) rotate(-90)" font-size="6.6" textLength="26.5" lengthAdjust="spacingAndGlyphs">GN O.85</text>
<rect x="339.95" y="154.7" width="6.09" height="26.5" fill="#fff"/>
<text class="m" transform="translate(345.25,180.2) rotate(-90)" font-size="6.81" textLength="24.5" lengthAdjust="spacingAndGlyphs">GN O.5</text>
<text class="t" x="338" y="197" font-size="4.83">X92</text>
<text class="t" x="351" y="197" font-size="5.52">4</text>
<rect x="283.74" y="261.6" width="6.13" height="30.8" fill="#fff"/>
<text class="m" transform="translate(289.06,291.4) rotate(-90)" font-size="6.86" textLength="28.8" lengthAdjust="spacingAndGlyphs">BL O.85</text>
<rect x="294.94" y="261.6" width="6.13" height="30.8" fill="#fff"/>
<text class="m" transform="translate(300.26,291.4) rotate(-90)" font-size="6.86" textLength="28.8" lengthAdjust="spacingAndGlyphs">RT O.85</text>
<rect x="306.24" y="261.6" width="6.13" height="30.8" fill="#fff"/>
<text class="m" transform="translate(311.56,291.4) rotate(-90)" font-size="6.86" textLength="28.8" lengthAdjust="spacingAndGlyphs">SW O.85</text>
<rect x="328.76" y="250.3" width="6.48" height="44.7" fill="#fff"/>
<text class="m" transform="translate(334.44,294) rotate(-90)" font-size="7.4" textLength="42.7" lengthAdjust="spacingAndGlyphs">BLSW O.85</text>
<text class="t" x="315.6" y="296" font-size="5.52">X95</text>
<text class="t" x="280.3" y="308" font-size="6.21">3</text>
<text class="t" x="291.5" y="308" font-size="6.21">6</text>
<text class="t" x="302.8" y="308" font-size="6.21">8</text>
<text class="t" x="325.5" y="308" font-size="6.21">5</text>
<rect x="283.82" y="325.6" width="5.96" height="40.9" fill="#fff"/>
<text class="m" transform="translate(288.98,365.5) rotate(-90)" font-size="6.6" textLength="38.9" lengthAdjust="spacingAndGlyphs">HEGNSW O.5</text>
<text class="t" x="279" y="378" font-size="4.83">X92</text>
<text class="t" x="281" y="385" font-size="5.52">3</text>
<rect x="261.12" y="342" width="5.96" height="39" fill="#fff"/>
<text class="m" transform="translate(266.28,380) rotate(-90)" font-size="6.6" textLength="37" lengthAdjust="spacingAndGlyphs">HEGNSW O.5</text>
<text class="t" x="251" y="329" font-size="4.83">X46</text>
<text class="t" x="253" y="341" font-size="5.52">18</text>
<rect x="239.82" y="342" width="5.96" height="39" fill="#fff"/>
<text class="m" transform="translate(244.98,380) rotate(-90)" font-size="6.6" textLength="37" lengthAdjust="spacingAndGlyphs">HEGNSW O.5</text>
<text class="t" x="224" y="384" font-size="4.83">X28</text>
<text class="t" x="228" y="397" font-size="5.52">11</text>
<rect x="217.22" y="341.5" width="5.96" height="39.5" fill="#fff"/>
<text class="m" transform="translate(222.38,380) rotate(-90)" font-size="6.6" textLength="37.5" lengthAdjust="spacingAndGlyphs">HEGNSW O.5</text>
<rect x="305.5" y="319.3" width="6.2" height="27.1" fill="#fff"/>
<text class="m" transform="translate(310.9,345.4) rotate(-90)" font-size="6.97" textLength="25.1" lengthAdjust="spacingAndGlyphs">SW O.5</text>
<text class="t" x="312" y="357" font-size="4.83">X92</text>
<text class="t" x="313" y="363" font-size="5.52">4</text>
<rect x="305.38" y="375.4" width="6.44" height="28.4" fill="#fff"/>
<text class="m" transform="translate(311.02,402.8) rotate(-90)" font-size="7.33" textLength="26.4" lengthAdjust="spacingAndGlyphs">SW O.5</text>
<text class="m" x="311.8" y="452.5" font-size="5">15</text>
<rect x="328.02" y="319.3" width="5.96" height="32.1" fill="#fff"/>
<text class="m" transform="translate(333.18,350.4) rotate(-90)" font-size="6.6" textLength="30.1" lengthAdjust="spacingAndGlyphs">BLSW O.5</text>
<text class="L" x="342.1" y="380.6" font-size="8.8" textLength="17.3" lengthAdjust="spacingAndGlyphs">M26</text>
<rect x="194.42" y="352.8" width="6.35" height="40.9" fill="#fff"/>
<text class="m" transform="translate(199.98,392.7) rotate(-90)" font-size="7.2" textLength="38.9" lengthAdjust="spacingAndGlyphs">GNGE 1.25</text>
<text class="t" x="186" y="401" font-size="5.52">X30</text>
<text class="t" x="190" y="408" font-size="5.52">8</text>
<rect x="199.75" y="408.37" width="38.55" height="6.07" fill="#fff"/>
<text class="m" x="200.75" y="413.63" font-size="6.77" textLength="36.55" lengthAdjust="spacingAndGlyphs">GNGE 1.25</text>
<rect x="254.9" y="408.33" width="39.1" height="6.13" fill="#fff"/>
<text class="m" x="255.9" y="413.67" font-size="6.87" textLength="37.1" lengthAdjust="spacingAndGlyphs">GNGE 1.25</text>
<text class="t" x="204" y="428" font-size="4.83">X45</text>
<text class="t" x="208" y="441" font-size="5.52">9</text>
<rect x="210.4" y="430.56" width="38.6" height="6.07" fill="#fff"/>
<text class="m" x="211.4" y="435.84" font-size="6.78" textLength="36.6" lengthAdjust="spacingAndGlyphs">GNGE 1.25</text>
<text class="t" x="242" y="418" font-size="4.83">X92</text>
<text class="t" x="246" y="424" font-size="5.52">8</text>
<text class="L" x="85.95" y="377" font-size="9.2" text-anchor="middle">1</text>
<text class="L" x="97" y="377" font-size="9.2" text-anchor="middle">2</text>
<text class="L" x="108.05" y="377" font-size="9.2" text-anchor="middle">3</text>
<text class="L" x="119.2" y="377" font-size="9.2" text-anchor="middle">4</text>
<text class="L" x="130.35" y="377" font-size="9.2" text-anchor="middle">5</text>
<text class="L" x="141.8" y="377" font-size="9.2" text-anchor="middle">6</text>
<text class="L" x="153.1" y="377" font-size="9.2" text-anchor="middle">7</text>
<text class="L" x="164.25" y="377" font-size="9.2" text-anchor="middle">8</text>
<text class="L" x="175.55" y="377" font-size="9.2" text-anchor="middle">9</text>
<text class="L" x="59.6" y="375.8" font-size="8.5" textLength="18.4" lengthAdjust="spacingAndGlyphs">S19</text>
<text class="t" x="64" y="388.3" font-size="4.5">WASH</text>
<text class="t" x="65" y="404.3" font-size="4.6">OFF</text>
<text class="t" x="64.5" y="417.6" font-size="4.5">WIPE</text>
<text class="t" x="66" y="423.6" font-size="4.5">INT</text>
<text class="t" x="64.5" y="433.8" font-size="4.5">WIPE</text>
<text class="t" x="66.5" y="440" font-size="4.5">ON</text>
<text class="b" x="745.5" y="456.5" font-size="6.5">3</text>
<text class="N" x="61.4" y="470.3" font-size="9.3" textLength="20.6" lengthAdjust="spacingAndGlyphs">9440</text>
<rect x="85.8" y="465.3" width="0.7" height="4.5" fill="#999"/>
<text class="b" x="96.25" y="470.1" font-size="6.8" text-anchor="middle">2</text>
<text class="b" x="107.5" y="470.1" font-size="6.8" text-anchor="middle">3</text>
<text class="b" x="118.5" y="470.1" font-size="6.8" text-anchor="middle">4</text>
<text class="b" x="129.5" y="470.1" font-size="6.8" text-anchor="middle">5</text>
<text class="b" x="141.25" y="470.1" font-size="6.8" text-anchor="middle">6</text>
<text class="b" x="152.5" y="470.1" font-size="6.8" text-anchor="middle">7</text>
<text class="b" x="163.75" y="470.1" font-size="6.8" text-anchor="middle">8</text>
<text class="N" x="172.2" y="470" font-size="9.3" textLength="20.6" lengthAdjust="spacingAndGlyphs">9450</text>
<rect x="196.6" y="465" width="0.7" height="4.5" fill="#999"/>
<text class="b" x="207.05" y="469.8" font-size="6.8" text-anchor="middle">2</text>
<text class="b" x="218.3" y="469.8" font-size="6.8" text-anchor="middle">3</text>
<text class="b" x="229.3" y="469.8" font-size="6.8" text-anchor="middle">4</text>
<text class="b" x="240.3" y="469.8" font-size="6.8" text-anchor="middle">5</text>
<text class="b" x="252.05" y="469.8" font-size="6.8" text-anchor="middle">6</text>
<text class="b" x="263.3" y="469.8" font-size="6.8" text-anchor="middle">7</text>
<text class="b" x="274.55" y="469.8" font-size="6.8" text-anchor="middle">8</text>
<text class="N" x="283" y="469.7" font-size="9.3" textLength="20.6" lengthAdjust="spacingAndGlyphs">9460</text>
<rect x="307.4" y="464.7" width="0.7" height="4.5" fill="#999"/>
<text class="b" x="317.85" y="469.5" font-size="6.8" text-anchor="middle">2</text>
<text class="b" x="329.1" y="469.5" font-size="6.8" text-anchor="middle">3</text>
<text class="b" x="340.1" y="469.5" font-size="6.8" text-anchor="middle">4</text>
<text class="b" x="351.1" y="469.5" font-size="6.8" text-anchor="middle">5</text>
<text class="b" x="362.85" y="469.5" font-size="6.8" text-anchor="middle">6</text>
<text class="b" x="374.1" y="469.5" font-size="6.8" text-anchor="middle">7</text>
<text class="b" x="385.35" y="469.5" font-size="6.8" text-anchor="middle">8</text>
<text class="N" x="393.8" y="469.4" font-size="9.3" textLength="20.6" lengthAdjust="spacingAndGlyphs">9470</text>
<rect x="418.2" y="464.4" width="0.7" height="4.5" fill="#999"/>
<text class="b" x="428.65" y="469.2" font-size="6.8" text-anchor="middle">2</text>
<text class="b" x="439.9" y="469.2" font-size="6.8" text-anchor="middle">3</text>
<text class="b" x="450.9" y="469.2" font-size="6.8" text-anchor="middle">4</text>
<text class="b" x="461.9" y="469.2" font-size="6.8" text-anchor="middle">5</text>
<text class="b" x="473.65" y="469.2" font-size="6.8" text-anchor="middle">6</text>
<text class="b" x="484.9" y="469.2" font-size="6.8" text-anchor="middle">7</text>
<text class="b" x="496.15" y="469.2" font-size="6.8" text-anchor="middle">8</text>
<text class="N" x="504.6" y="469.1" font-size="9.3" textLength="20.6" lengthAdjust="spacingAndGlyphs">9480</text>
<rect x="529" y="464.1" width="0.7" height="4.5" fill="#999"/>
<text class="b" x="539.45" y="468.9" font-size="6.8" text-anchor="middle">2</text>
<text class="b" x="550.7" y="468.9" font-size="6.8" text-anchor="middle">3</text>
<text class="b" x="561.7" y="468.9" font-size="6.8" text-anchor="middle">4</text>
<text class="b" x="572.7" y="468.9" font-size="6.8" text-anchor="middle">5</text>
<text class="b" x="584.45" y="468.9" font-size="6.8" text-anchor="middle">6</text>
<text class="b" x="595.7" y="468.9" font-size="6.8" text-anchor="middle">7</text>
<text class="b" x="606.95" y="468.9" font-size="6.8" text-anchor="middle">8</text>
<text class="N" x="615.4" y="468.8" font-size="9.3" textLength="20.6" lengthAdjust="spacingAndGlyphs">9490</text>
<rect x="639.8" y="463.8" width="0.7" height="4.5" fill="#999"/>
<text class="b" x="650.25" y="468.6" font-size="6.8" text-anchor="middle">2</text>
<text class="b" x="661.5" y="468.6" font-size="6.8" text-anchor="middle">3</text>
<text class="b" x="672.5" y="468.6" font-size="6.8" text-anchor="middle">4</text>
<text class="b" x="683.5" y="468.6" font-size="6.8" text-anchor="middle">5</text>
<text class="b" x="695.25" y="468.6" font-size="6.8" text-anchor="middle">6</text>
<text class="b" x="706.5" y="468.6" font-size="6.8" text-anchor="middle">7</text>
<text class="b" x="717.75" y="468.6" font-size="6.8" text-anchor="middle">8</text>
<text class="b" x="727" y="468.3" font-size="6.8" text-anchor="middle">9</text>
<text class="s" x="153.3" y="490" font-size="10" textLength="114.4" lengthAdjust="spacingAndGlyphs">очиститель заднего стекла</text>
<text class="s" x="460.9" y="491" font-size="10" textLength="68.2" lengthAdjust="spacingAndGlyphs">фароомыватель</text>
<text class="s" x="576.9" y="491" font-size="10" textLength="126.7" lengthAdjust="spacingAndGlyphs">регулировка дальности света</text>
<text class="m" x="445" y="132.39" font-size="6.5" textLength="13.3" lengthAdjust="spacingAndGlyphs">412</text>
<rect x="449.25" y="142.8" width="6.1" height="34.7" fill="#fff"/>
<text class="m" transform="translate(454.55,176.5) rotate(-90)" font-size="6.81" textLength="32.7" lengthAdjust="spacingAndGlyphs">BLSW O.5</text>
<rect x="449.06" y="208" width="6.48" height="38.5" fill="#fff"/>
<text class="m" transform="translate(454.74,245.5) rotate(-90)" font-size="7.4" textLength="36.5" lengthAdjust="spacingAndGlyphs">RTSW O.5</text>
<text class="m" x="444.2" y="262.04" font-size="6.5" textLength="13.3" lengthAdjust="spacingAndGlyphs">232</text>
<text class="L" x="466.2" y="174.3" font-size="8.7" textLength="18" lengthAdjust="spacingAndGlyphs">K97</text>
<text class="t" x="468.5" y="203" font-size="5.8">5</text>
<text class="t" x="487" y="208.5" font-size="5.8">6</text>
<text class="m" x="500.5" y="46.16" font-size="6" textLength="13.7" lengthAdjust="spacingAndGlyphs">159</text>
<text class="m" x="500.5" y="54.01" font-size="6" textLength="13.7" lengthAdjust="spacingAndGlyphs">101</text>
<text class="t" x="517.8" y="46.3" font-size="5.2">TD</text>
<text class="t" x="518" y="54.2" font-size="5.2">B</text>
<rect x="504.73" y="73" width="6.48" height="20" fill="#fff"/>
<text class="m" transform="translate(510.41,92) rotate(-90)" font-size="7.4" textLength="18" lengthAdjust="spacingAndGlyphs">X5 3</text>
<text class="t" x="500" y="113" font-size="5.52">10</text>
<text class="L" x="515.9" y="114.7" font-size="9.5" textLength="16.9" lengthAdjust="spacingAndGlyphs">F5E</text>
<rect x="504.44" y="134" width="6.44" height="28.4" fill="#fff"/>
<text class="m" transform="translate(510.08,161.4) rotate(-90)" font-size="7.33" textLength="26.4" lengthAdjust="spacingAndGlyphs">RTGN 3</text>
<rect x="503.96" y="224.4" width="6.48" height="37.9" fill="#fff"/>
<text class="m" transform="translate(509.64,261.3) rotate(-90)" font-size="7.4" textLength="35.9" lengthAdjust="spacingAndGlyphs">SWGN 2</text>
<text class="t" x="496" y="267" font-size="4.83">X17</text>
<text class="t" x="499" y="275" font-size="5.52">1</text>
<rect x="503.67" y="288" width="6.48" height="29.5" fill="#fff"/>
<text class="m" transform="translate(509.35,316.5) rotate(-90)" font-size="7.4" textLength="27.5" lengthAdjust="spacingAndGlyphs">GNBL 2</text>
<text class="t" x="504.4" y="335.3" font-size="5.5" textLength="5" lengthAdjust="spacingAndGlyphs">M</text>
<text class="L" x="513.1" y="329" font-size="8" textLength="16.9" lengthAdjust="spacingAndGlyphs">M24</text>
<rect x="503.34" y="360.7" width="6.48" height="20.6" fill="#fff"/>
<text class="m" transform="translate(509.03,380.3) rotate(-90)" font-size="7.4" textLength="18.6" lengthAdjust="spacingAndGlyphs">SW 2</text>
<text class="t" x="497" y="390" font-size="4.83">X17</text>
<text class="t" x="500" y="397" font-size="5.52">2</text>
<rect x="503.08" y="416.6" width="6.48" height="20.7" fill="#fff"/>
<text class="m" transform="translate(508.76,436.3) rotate(-90)" font-size="7.4" textLength="18.7" lengthAdjust="spacingAndGlyphs">SW 2</text>
<rect x="481.06" y="409.4" width="6.48" height="29.3" fill="#fff"/>
<text class="m" transform="translate(486.74,437.7) rotate(-90)" font-size="7.4" textLength="27.3" lengthAdjust="spacingAndGlyphs">SW O.5</text>
<text class="t" x="488" y="452" font-size="5.52">1</text>
<text class="t" x="510" y="452" font-size="5.52">1</text>
<text class="L" x="626.9" y="61.6" font-size="8.5" textLength="17.5" lengthAdjust="spacingAndGlyphs">S98</text>
<text class="t" x="610" y="95" font-size="6.21">31</text>
<text class="t" x="634" y="95" font-size="6.21">4</text>
<text class="t" x="654" y="95" font-size="6.21">56B</text>
<rect x="603.84" y="106.5" width="6.33" height="32.1" fill="#fff"/>
<text class="m" transform="translate(609.37,137.6) rotate(-90)" font-size="7.17" textLength="30.1" lengthAdjust="spacingAndGlyphs">BR O.75</text>
<rect x="614.94" y="106.5" width="6.33" height="32.1" fill="#fff"/>
<text class="m" transform="translate(620.47,137.6) rotate(-90)" font-size="7.17" textLength="30.1" lengthAdjust="spacingAndGlyphs">BR O.75</text>
<rect x="626.24" y="106.5" width="6.33" height="32.1" fill="#fff"/>
<text class="m" transform="translate(631.76,137.6) rotate(-90)" font-size="7.17" textLength="30.1" lengthAdjust="spacingAndGlyphs">BR O.75</text>
<rect x="637.04" y="106.5" width="6.33" height="32.1" fill="#fff"/>
<text class="m" transform="translate(642.57,137.6) rotate(-90)" font-size="7.17" textLength="30.1" lengthAdjust="spacingAndGlyphs">RT O.75</text>
<rect x="648.34" y="106.5" width="6.33" height="32.1" fill="#fff"/>
<text class="m" transform="translate(653.87,137.6) rotate(-90)" font-size="7.17" textLength="30.1" lengthAdjust="spacingAndGlyphs">SW O.75</text>
<rect x="659.13" y="106.5" width="6.33" height="32.1" fill="#fff"/>
<text class="m" transform="translate(664.66,137.6) rotate(-90)" font-size="7.17" textLength="30.1" lengthAdjust="spacingAndGlyphs">RT O.75</text>
<text class="t" x="601.2" y="151.5" font-size="6.21">B</text>
<text class="t" x="612.2" y="151.5" font-size="6.21">C</text>
<text class="t" x="623.2" y="151.5" font-size="6.21">D</text>
<text class="t" x="634.2" y="151.5" font-size="6.21">E</text>
<text class="t" x="645.2" y="151.5" font-size="6.21">G</text>
<text class="t" x="656.2" y="151.5" font-size="6.21">F</text>
<text class="t" x="672.8" y="153" font-size="4.8">X49</text>
<rect x="626.42" y="171.8" width="5.96" height="29.6" fill="#fff"/>
<text class="m" transform="translate(631.58,200.4) rotate(-90)" font-size="6.6" textLength="27.6" lengthAdjust="spacingAndGlyphs">SW O.75</text>
<text class="m" x="622.9" y="232.84" font-size="6.5" textLength="12.8" lengthAdjust="spacingAndGlyphs">565</text>
<rect x="637.2" y="164.2" width="6.21" height="39.7" fill="#fff"/>
<text class="m" transform="translate(642.6,202.9) rotate(-90)" font-size="6.98" textLength="37.7" lengthAdjust="spacingAndGlyphs">BRGE O.75</text>
<rect x="647.9" y="164.2" width="6.21" height="39.7" fill="#fff"/>
<text class="m" transform="translate(653.3,202.9) rotate(-90)" font-size="6.98" textLength="37.7" lengthAdjust="spacingAndGlyphs">RTWS O.75</text>
<text class="t" x="632" y="209.5" font-size="4.8">14</text>
<text class="t" x="654.4" y="209.5" font-size="4.8">16</text>
<text class="t" x="654.4" y="225.2" font-size="4.8">X1</text>
<rect x="647.31" y="246.5" width="6.18" height="39.5" fill="#fff"/>
<text class="m" transform="translate(652.69,285) rotate(-90)" font-size="6.94" textLength="37.5" lengthAdjust="spacingAndGlyphs">BRGE O.75</text>
<text class="m" x="677.6" y="186.64" font-size="6.5" textLength="13.3" lengthAdjust="spacingAndGlyphs">231</text>
<text class="t" x="679.3" y="172.6" font-size="4.6">F9E</text>
<text class="t" x="680" y="179.5" font-size="4.2">15A</text>
<rect x="658.38" y="262.6" width="6.23" height="39.9" fill="#fff"/>
<text class="m" transform="translate(663.82,301.5) rotate(-90)" font-size="7.02" textLength="37.9" lengthAdjust="spacingAndGlyphs">RTGN O.75</text>
<text class="m" x="567" y="187.59" font-size="6.5" textLength="13.4" lengthAdjust="spacingAndGlyphs">227</text>
<text class="t" x="565.3" y="172.6" font-size="4.6">F10E</text>
<text class="t" x="567.5" y="179.6" font-size="4.2">10A</text>
<rect x="569.9" y="201.8" width="6.2" height="39.6" fill="#fff"/>
<text class="m" transform="translate(575.3,240.4) rotate(-90)" font-size="6.96" textLength="37.6" lengthAdjust="spacingAndGlyphs">RTWS 1.25</text>
<rect x="579" y="251.12" width="41" height="6.37" fill="#fff"/>
<text class="m" x="580" y="256.68" font-size="7.22" textLength="39" lengthAdjust="spacingAndGlyphs">RTWS O.75</text>
<rect x="569.82" y="262.8" width="6.35" height="40.9" fill="#fff"/>
<text class="m" transform="translate(575.38,302.7) rotate(-90)" font-size="7.2" textLength="38.9" lengthAdjust="spacingAndGlyphs">RTWS O.75</text>
<text class="t" x="574" y="337.2" font-size="4.97">268</text>
<text class="t" x="583" y="337.2" font-size="4.97">℄</text>
<text class="t" x="596" y="337.2" font-size="4.42">31</text>
<text class="t" x="581" y="374.3" font-size="5.5" textLength="5" lengthAdjust="spacingAndGlyphs">M</text>
<rect x="614.06" y="395.5" width="6.48" height="33.4" fill="#fff"/>
<text class="m" transform="translate(619.74,427.9) rotate(-90)" font-size="7.4" textLength="31.4" lengthAdjust="spacingAndGlyphs">SW O.75</text>
<text class="t" x="620.8" y="449" font-size="5.52">1</text>
<text class="t" x="662.4" y="337.2" font-size="4.97">268</text>
<text class="t" x="671.4" y="337.2" font-size="4.97">℄</text>
<text class="t" x="684.4" y="337.2" font-size="4.42">31</text>
<text class="t" x="669.4" y="374.3" font-size="5.5" textLength="5" lengthAdjust="spacingAndGlyphs">M</text>
<rect x="702.46" y="395.5" width="6.48" height="33.4" fill="#fff"/>
<text class="m" transform="translate(708.14,427.9) rotate(-90)" font-size="7.4" textLength="31.4" lengthAdjust="spacingAndGlyphs">SW O.75</text>
<text class="t" x="709.2" y="449" font-size="5.52">1</text>
<text class="L" x="575.8" y="393.2" font-size="9.4" textLength="17.5" lengthAdjust="spacingAndGlyphs">M39</text>
<text class="L" x="665" y="393.2" font-size="9.4" textLength="17.5" lengthAdjust="spacingAndGlyphs">M40</text>
</g>
</svg>
</body></html>
